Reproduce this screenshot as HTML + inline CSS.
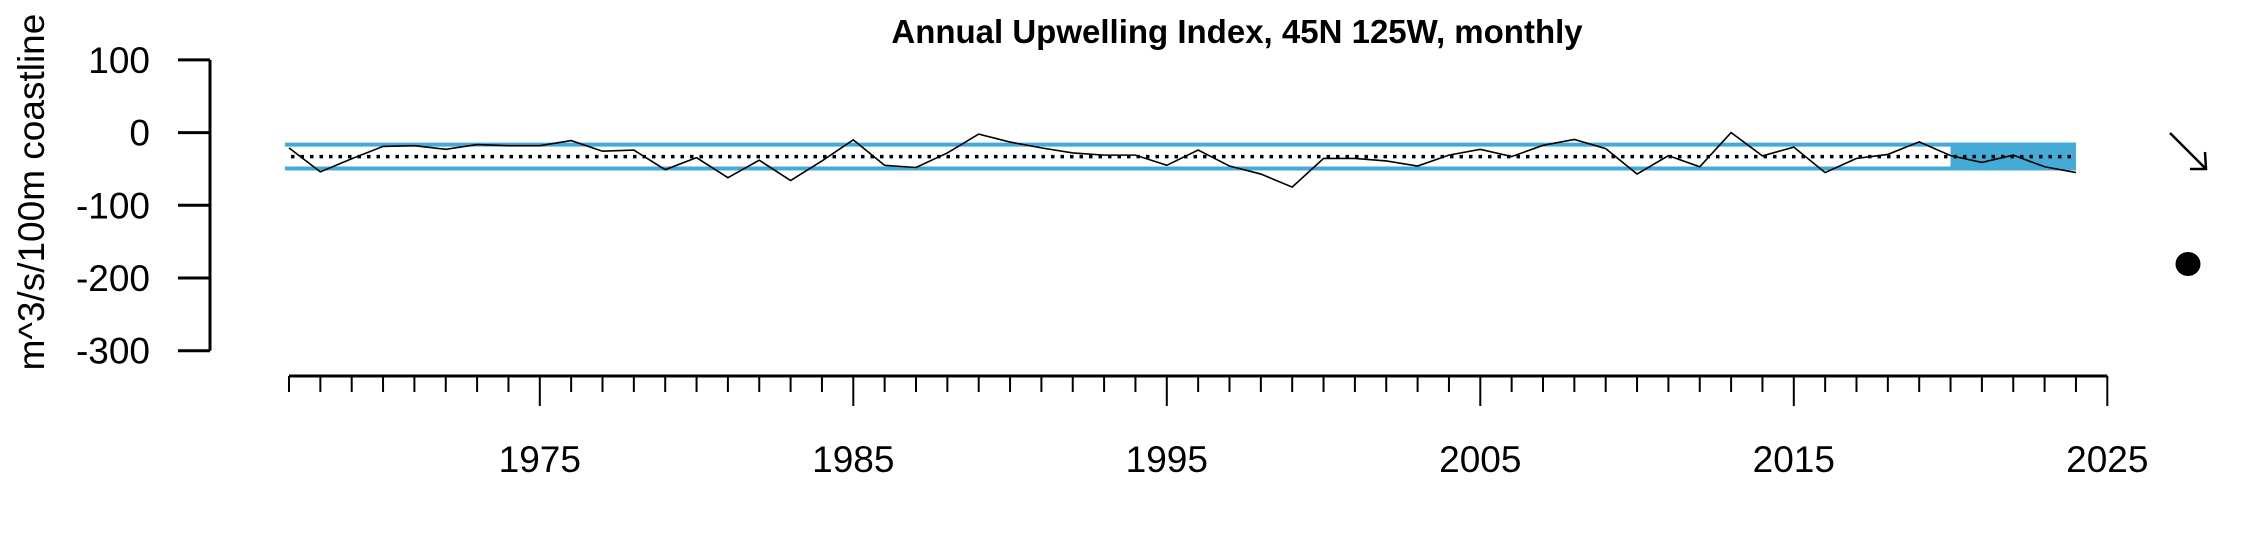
<!DOCTYPE html>
<html><head><meta charset="utf-8"><style>
html,body{margin:0;padding:0;background:#fff;}
svg{display:block;font-family:"Liberation Sans",sans-serif;}
</style></head><body>
<svg id="chart" width="2250" height="540" viewBox="0 0 2250 540" xmlns="http://www.w3.org/2000/svg">
<text x="1237" y="43" text-anchor="middle" font-size="33" font-weight="bold">Annual Upwelling Index, 45N 125W, monthly</text>
<text transform="translate(44,192) rotate(-90)" text-anchor="middle" font-size="37">m^3/s/100m coastline</text>
<g id="yaxis"></g>
<g id="xaxis"></g>
<g id="plot"></g>
<g>
<line x1="2170" y1="133" x2="2205" y2="168" stroke="#000" stroke-width="2.5"/>
<polyline points="2205,152 2206,169 2190,169" fill="none" stroke="#000" stroke-width="2.5"/>
</g>
<ellipse cx="2188" cy="264" rx="12.5" ry="12" fill="#000"/>
</svg>
<script>
const years = [1967,1968,1969,1970,1971,1972,1973,1974,1975,1976,1977,1978,1979,1980,1981,1982,1983,1984,1985,1986,1987,1988,1989,1990,1991,1992,1993,1994,1995,1996,1997,1998,1999,2000,2001,2002,2003,2004,2005,2006,2007,2008,2009,2010,2011,2012,2013,2014,2015,2016,2017,2018,2019,2020,2021,2022,2023,2024];
const values = [-21,-54,-36,-19,-18,-23,-16.5,-18,-18,-11,-25.6,-24,-51,-34.5,-62,-38,-66,-39,-10,-45,-48,-28,-2,-13,-21,-28,-31,-31,-45,-24,-46,-57,-75,-35.5,-35.5,-39,-46,-31,-23,-33,-17.5,-9.5,-22,-57,-31.7,-47,0,-32,-20,-55,-35.5,-30,-12.8,-31.7,-41,-31,-47,-55];
const yTicks = [100,0,-100,-200,-300];
const xLabels = [1975,1985,1995,2005,2015,2025];
const meanVal = -33;
const upperSd = -16.5;
const lowerSd = -49.3;
const recentStart = 2020;

const NS='http://www.w3.org/2000/svg';
const X = yr => 289 + (yr-1967)*31.35;
const Y = v => 132.6 - v*0.727;
function mk(tag, attrs, parent){const e=document.createElementNS(NS,tag);for(const k in attrs)e.setAttribute(k,attrs[k]);parent.appendChild(e);return e;}
const yax=document.getElementById('yaxis'), xax=document.getElementById('xaxis'), plot=document.getElementById('plot');

mk('line',{x1:210,y1:Y(100),x2:210,y2:Y(-300),stroke:'#000','stroke-width':3},yax);
yTicks.forEach(t=>{
  const l=mk('line',{x1:178,y1:Y(t),x2:210,y2:Y(t),stroke:'#000','stroke-width':3},yax);
  
  
  const tx=mk('text',{x:150,y:Y(t)+13,'text-anchor':'end','font-size':37},yax);
  tx.textContent=t;
  
  
});

const x0=1967,x1=2025;
mk('line',{x1:X(x0),y1:376,x2:X(x1),y2:376,stroke:'#000','stroke-width':3},xax);
for(let yr=x0;yr<=x1;yr++){
  const major=xLabels.includes(yr);
  const l=mk('line',{x1:X(yr),y1:376,x2:X(yr),y2:major?406:392,stroke:'#000','stroke-width':2},xax);
  
  
}
xLabels.forEach(yr=>{
  const tx=mk('text',{x:X(yr),y:472,'text-anchor':'middle','font-size':37},xax);
  tx.textContent=yr;
  
  
});

const last=years[years.length-1];
const box=mk('rect',{x:X(recentStart),y:Y(upperSd)-2,width:X(last)-X(recentStart),height:Y(lowerSd)-Y(upperSd)+4,fill:'#44aad6'},plot);


const ub=mk('line',{x1:X(years[0])-4,y1:Y(upperSd),x2:X(last),y2:Y(upperSd),stroke:'#44aad6','stroke-width':4},plot);


const lb=mk('line',{x1:X(years[0])-4,y1:Y(lowerSd),x2:X(last),y2:Y(lowerSd),stroke:'#44aad6','stroke-width':4},plot);


const ml=mk('line',{x1:X(years[0])+2,y1:Y(meanVal),x2:X(last),y2:Y(meanVal),stroke:'#000','stroke-width':3.5,'stroke-dasharray':'3.5,6'},plot);


const pl=mk('polyline',{points:years.map((y,i)=>X(y)+','+Y(values[i])).join(' '),fill:'none',stroke:'#000','stroke-width':1.6},plot);


</script>
</body></html>
